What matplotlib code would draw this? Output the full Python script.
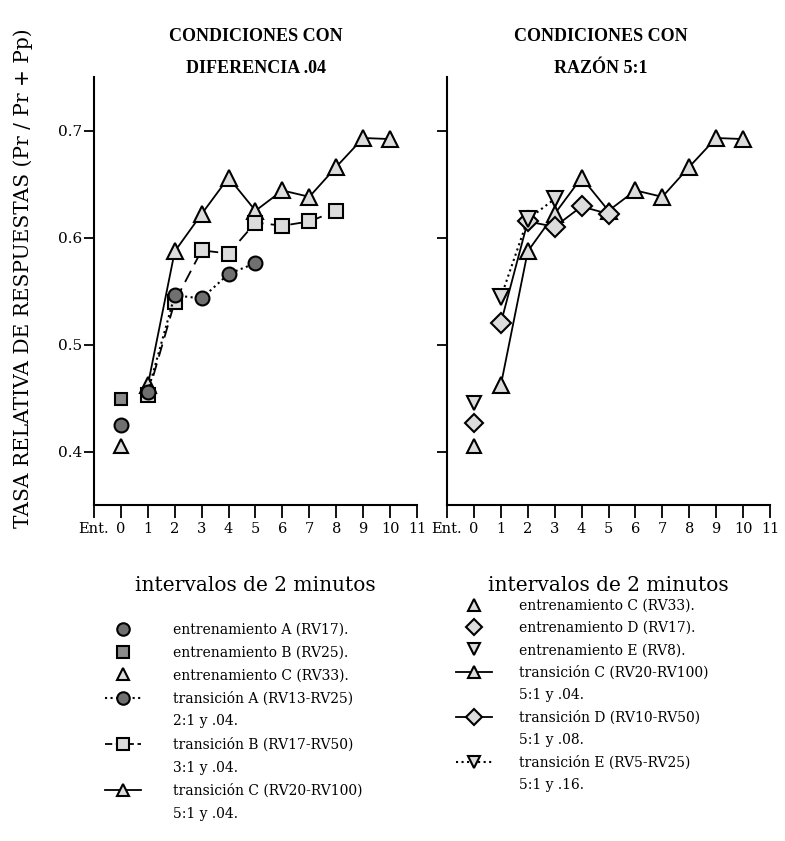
import matplotlib
matplotlib.use('Agg')
import matplotlib.pyplot as plt
from matplotlib.lines import Line2D

plt.rcParams['font.family'] = ['DejaVu Serif']

# datos
x_trans = [1, 2, 3, 4, 5, 6, 7, 8, 9, 10]
tr_C = [0.462, 0.587, 0.622, 0.656, 0.625, 0.644, 0.638, 0.666, 0.693, 0.692]
x_B = [1, 2, 3, 4, 5, 6, 7, 8]
tr_B = [0.453, 0.540, 0.588, 0.585, 0.614, 0.611, 0.615, 0.625]
x_A = [1, 2, 3, 4, 5]
tr_A = [0.456, 0.546, 0.543, 0.566, 0.576]
x_D = [1, 2, 3, 4, 5]
tr_D = [0.520, 0.615, 0.610, 0.629, 0.622]
x_E = [1, 2, 3]
tr_E = [0.544, 0.617, 0.636]

ent_A = 0.425
ent_B = 0.449
ent_C = 0.405
ent_D = 0.427
ent_E = 0.445

xticks = [-1, 0, 1, 2, 3, 4, 5, 6, 7, 8, 9, 10, 11]
xticklabels = ['Ent.', '0', '1', '2', '3', '4', '5', '6', '7', '8', '9', '10', '11']
yticks = [0.4, 0.5, 0.6, 0.7]

fig = plt.figure(figsize=(7.85, 8.41), dpi=100)
W, H = 785., 841.
ax1 = fig.add_axes([94 / W, (H - 505) / H, 323 / W, 428 / H])
ax2 = fig.add_axes([447 / W, (H - 505) / H, 323 / W, 428 / H])

light = '#dcdcdc'
mk = dict(markeredgecolor='black', markeredgewidth=1.5)

# panel izquierdo
ax1.plot(x_trans, tr_C, '-', color='black', lw=1.3, marker='^', ms=11, markerfacecolor=light, **mk, zorder=3)
ax1.plot(x_B, tr_B, '--', dashes=(7, 4), color='black', lw=1.3, marker='s', ms=10, markerfacecolor=light, **mk, zorder=4)
ax1.plot(x_A, tr_A, ':', color='black', lw=1.5, marker='o', ms=10, markerfacecolor='#707070', **mk, zorder=5)
ax1.plot([0], [ent_B], 's', ms=9, markerfacecolor='#8a8a8a', **mk)
ax1.plot([0], [ent_A], 'o', ms=10, markerfacecolor='#707070', **mk)
ax1.plot([0], [ent_C], '^', ms=10, markerfacecolor=light, **mk)

# panel derecho
ax2.plot(x_trans, tr_C, '-', color='black', lw=1.3, marker='^', ms=11, markerfacecolor=light, **mk, zorder=3)
ax2.plot(x_D, tr_D, '-', color='black', lw=1.3, marker='D', ms=10, markerfacecolor=light, **mk, zorder=4)
ax2.plot(x_E, tr_E, ':', color='black', lw=1.5, marker='v', ms=11, markerfacecolor=light, **mk, zorder=5)
ax2.plot([0], [ent_E], 'v', ms=10, markerfacecolor=light, **mk)
ax2.plot([0], [ent_D], 'D', ms=9, markerfacecolor=light, **mk)
ax2.plot([0], [ent_C], '^', ms=10, markerfacecolor=light, **mk)

for ax in (ax1, ax2):
    ax.set_xlim(-1, 11)
    ax.set_ylim(0.35, 0.75)
    ax.spines['top'].set_visible(False)
    ax.spines['right'].set_visible(False)
    ax.spines['left'].set_linewidth(1.5)
    ax.spines['bottom'].set_linewidth(1.5)
    ax.set_xticks(xticks)
    ax.set_xticklabels(xticklabels, fontsize=10.5)
    ax.set_yticks(yticks)
    ax.tick_params(axis='x', direction='out', length=9, width=1.3, pad=3)
    ax.tick_params(axis='y', direction='out', length=7, width=1.3, pad=1.5)
    ax.set_xlabel('intervalos de 2 minutos', fontsize=14.5, labelpad=29)

ax1.set_yticklabels(['0.4', '0.5', '0.6', '0.7'], fontsize=11)
ax2.set_yticklabels([])
ax1.set_ylabel('TASA RELATIVA DE RESPUESTAS (Pr / Pr + Pp)', fontsize=14.5)
ax1.yaxis.set_label_coords(-0.19, 0.53)

ax1.set_title('CONDICIONES CON\nDIFERENCIA .04', fontsize=13, fontweight='bold',
              family='Liberation Serif', linespacing=2.15, pad=-8)
ax2.set_title('CONDICIONES CON\nRAZÓN 5:1', fontsize=13, fontweight='bold',
              family='Liberation Serif', linespacing=2.15, pad=-8, x=0.475)

# leyendas
blank = Line2D([], [], linestyle='none')
h_left = [
    Line2D([], [], linestyle='none', marker='o', ms=9, markerfacecolor='#707070', **mk),
    Line2D([], [], linestyle='none', marker='s', ms=9, markerfacecolor='#8a8a8a', **mk),
    Line2D([], [], linestyle='none', marker='^', ms=9, markerfacecolor=light, **mk),
    Line2D([], [], linestyle=':', color='black', lw=1.5, marker='o', ms=9, markerfacecolor='#707070', **mk),
    blank,
    Line2D([], [], linestyle='--', dashes=(4, 2), color='black', lw=1.3, marker='s', ms=9, markerfacecolor=light, **mk),
    blank,
    Line2D([], [], linestyle='-', color='black', lw=1.3, marker='^', ms=9, markerfacecolor=light, **mk),
    blank,
]
l_left = ['entrenamiento A (RV17).', 'entrenamiento B (RV25).', 'entrenamiento C (RV33).',
          'transición A (RV13-RV25)', '2:1 y .04.',
          'transición B (RV17-RV50)', '3:1 y .04.',
          'transición C (RV20-RV100)', '5:1 y .04.']
h_right = [
    Line2D([], [], linestyle='none', marker='^', ms=9, markerfacecolor=light, **mk),
    Line2D([], [], linestyle='none', marker='D', ms=8, markerfacecolor=light, **mk),
    Line2D([], [], linestyle='none', marker='v', ms=9, markerfacecolor=light, **mk),
    Line2D([], [], linestyle='-', color='black', lw=1.3, marker='^', ms=9, markerfacecolor=light, **mk),
    blank,
    Line2D([], [], linestyle='-', color='black', lw=1.3, marker='D', ms=8, markerfacecolor=light, **mk),
    blank,
    Line2D([], [], linestyle=':', color='black', lw=1.5, marker='v', ms=9, markerfacecolor=light, **mk),
    blank,
]
l_right = ['entrenamiento C (RV33).', 'entrenamiento D (RV17).', 'entrenamiento E (RV8).',
           'transición C (RV20-RV100)', '5:1 y .04.',
           'transición D (RV10-RV50)', '5:1 y .08.',
           'transición E (RV5-RV25)', '5:1 y .16.']

fig.legend(h_left, l_left, loc='upper left', bbox_to_anchor=(99 / W, 1 - 617 / H),
           frameon=False, fontsize=10, handlelength=2.6, handletextpad=2.3,
           labelspacing=0.64, borderaxespad=0)
fig.legend(h_right, l_right, loc='upper left', bbox_to_anchor=(450 / W, 1 - 593 / H),
           frameon=False, fontsize=10, handlelength=2.6, handletextpad=2.0,
           labelspacing=0.6, borderaxespad=0)

fig.savefig('out.png', dpi=100)
